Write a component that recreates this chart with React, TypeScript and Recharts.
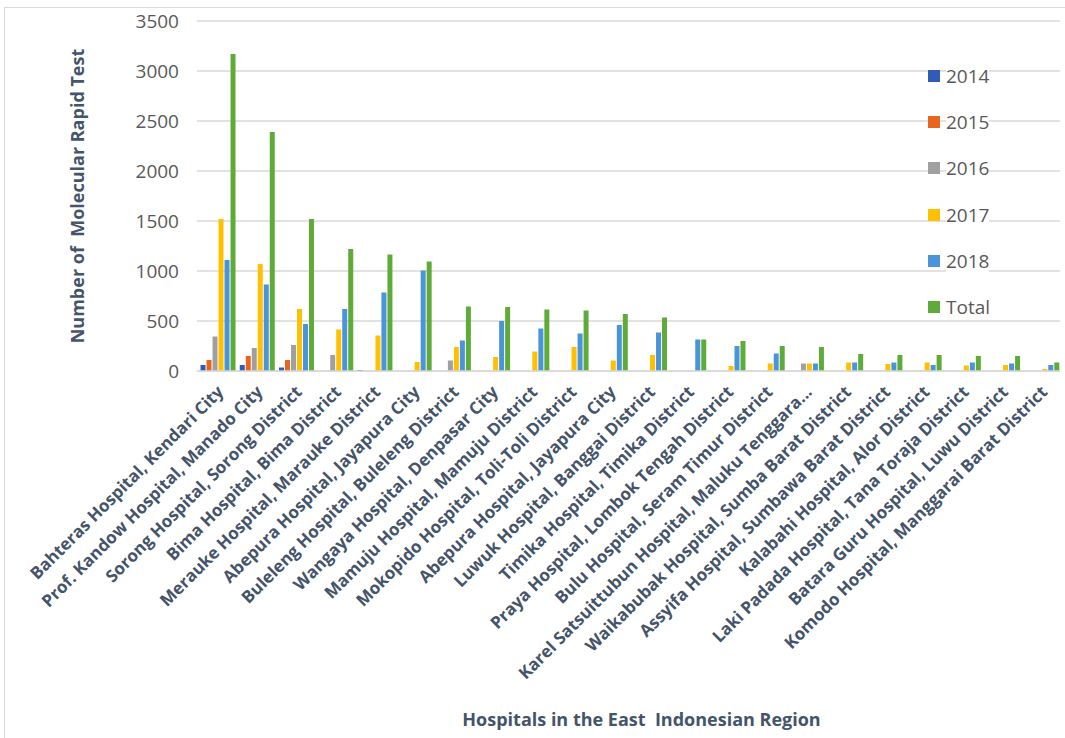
import { BarChart, Bar, XAxis, YAxis, CartesianGrid, Label } from 'recharts';

const hospitals = [
  'Bahteras Hospital, Kendari City',
  'Prof. Kandow Hospital, Manado City',
  'Sorong Hospital, Sorong District',
  'Bima Hospital, Bima District',
  'Merauke Hospital, Marauke District',
  'Abepura Hospital, Jayapura City',
  'Buleleng Hospital, Buleleng District',
  'Wangaya Hospital, Denpasar City',
  'Mamuju Hospital, Mamuju District',
  'Mokopido Hospital, Toli-Toli District',
  'Abepura Hospital, Jayapura City',
  'Luwuk Hospital, Banggai District',
  'Timika Hospital, Timika District',
  'Praya Hospital, Lombok Tengah District',
  'Bulu Hospital, Seram Timur District',
  'Karel Satsuittubun Hospital, Maluku Tenggara...',
  'Waikabubak Hospital, Sumba Barat District',
  'Assyifa Hospital, Sumbawa Barat District',
  'Kalabahi Hospital, Alor District',
  'Laki Padada Hospital, Tana Toraja District',
  'Batara Guru Hospital, Luwu District',
  'Komodo Hospital, Manggarai Barat District',
];

const y2014 = [60, 60, 35, 0, 10, 0, 0, 0, 0, 0, 0, 0, 0, 0, 0, 0, 0, 0, 0, 0, 0, 0];
const y2015 = [110, 150, 110, 0, 0, 0, 0, 0, 0, 0, 0, 0, 0, 0, 0, 0, 0, 0, 0, 0, 0, 0];
const y2016 = [345, 230, 260, 160, 0, 0, 105, 0, 0, 0, 0, 0, 0, 0, 0, 75, 0, 0, 0, 0, 0, 0];
const y2017 = [1520, 1070, 620, 415, 355, 90, 240, 140, 195, 240, 105, 160, 0, 50, 75, 75, 85, 70, 85, 55, 60, 20];
const y2018 = [1110, 865, 470, 620, 785, 1005, 305, 500, 425, 375, 460, 385, 315, 250, 175, 75, 85, 85, 60, 85, 75, 60];
const total = [3170, 2390, 1520, 1220, 1165, 1095, 645, 640, 615, 605, 570, 535, 315, 300, 250, 240, 170, 160, 160, 150, 150, 85];

const yTicks = [0, 500, 1000, 1500, 2000, 2500, 3000, 3500];

const series = [
  { key: 'y2014', name: '2014', color: '#2f5db5' },
  { key: 'y2015', name: '2015', color: '#e8651e' },
  { key: 'y2016', name: '2016', color: '#a0a0a0' },
  { key: 'y2017', name: '2017', color: '#ffc000' },
  { key: 'y2018', name: '2018', color: '#4a94d9' },
  { key: 'total', name: 'Total', color: '#5fab3a' },
];

const data = hospitals.map((name, i) => ({
  idx: i,
  name,
  y2014: y2014[i],
  y2015: y2015[i],
  y2016: y2016[i],
  y2017: y2017[i],
  y2018: y2018[i],
  total: total[i],
}));

const FONT = '"Open Sans", sans-serif';

function HospitalTick(props: any) {
  const { x, y, payload } = props;
  return (
    <g transform={`translate(${x + 8},${y + 14})`}>
      <text
        textAnchor="end"
        transform="rotate(-45)"
        fontFamily={FONT}
        fontWeight={700}
        fontSize={17}
        fill="#44546a"
      >
        {hospitals[payload.value]}
      </text>
    </g>
  );
}

function LegendList() {
  return (
    <div style={{ position: 'absolute', left: 928, top: 53, fontFamily: FONT, fontSize: 19, color: '#595959' }}>
      {series.map((s) => (
        <div key={s.key} style={{ display: 'flex', alignItems: 'center', height: 46.2, paddingRight: 4 }}>
          <span style={{ width: 12, height: 12, background: s.color, marginRight: 6, display: 'inline-block' }} />
          <span style={{ background: 'white' }}>{s.name}</span>
        </div>
      ))}
    </div>
  );
}

export default function App() {
  return (
    <div style={{ position: 'absolute', left: 0, top: 0, width: 1065, height: 738, background: 'white' }}>
      <div style={{ position: 'absolute', left: 4, top: 7, width: 1060, height: 730, borderLeft: '1px solid #d9d9d9', borderTop: '1px solid #d9d9d9' }} />
      <BarChart
        width={1065}
        height={738}
        data={data}
        margin={{ top: 21, right: 5, left: 0, bottom: 0 }}
        barCategoryGap="9%"
        barGap={1}
      >
        <CartesianGrid vertical={false} stroke="#d9d9d9" strokeWidth={1.5} />
        <XAxis
          dataKey="idx"
          interval={0}
          height={367}
          tick={<HospitalTick />}
          tickLine={false}
          axisLine={{ stroke: '#d9d9d9', strokeWidth: 1.5 }}
        >
          <Label
            value={'Hospitals in the East\u00a0\u00a0Indonesian Region'}
            position="insideBottom"
            offset={12}
            dx={13}
            style={{ fontFamily: FONT, fontWeight: 700, fontSize: 18, fill: '#44546a' }}
          />
        </XAxis>
        <YAxis
          width={197}
          domain={[0, 3500]}
          ticks={yTicks}
          interval={0}
          tickLine={false}
          axisLine={false}
          tickMargin={12}
          tick={{ fontFamily: FONT, fontSize: 19, fill: '#595959' }}
        >
          <Label
            value={'Number of\u00a0\u00a0Molecular Rapid Test'}
            angle={-90}
            position="insideLeft"
            offset={78}
            style={{ fontFamily: FONT, fontWeight: 700, fontSize: 18, fill: '#44546a', textAnchor: 'middle' }}
          />
        </YAxis>
        {series.map((s) => (
          <Bar key={s.key} dataKey={s.key} name={s.name} fill={s.color} isAnimationActive={false} />
        ))}
      </BarChart>
      <LegendList />
    </div>
  );
}
